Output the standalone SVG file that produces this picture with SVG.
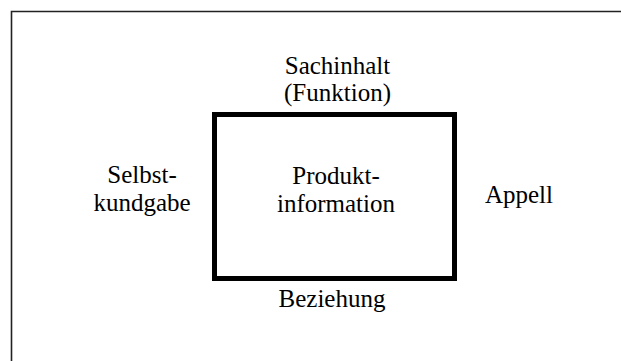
<svg xmlns="http://www.w3.org/2000/svg" width="621" height="361" viewBox="0 0 621 361">
<style>
text{font-size:25px;fill:#000;text-anchor:middle}
.frame{fill:none;stroke:#222;stroke-width:1.6}
.box{fill:none;stroke:#000;stroke-width:5}
</style>
<rect width="621" height="361" fill="#fff"/>
<path class="frame" d="M11.5,361 V11.5 H621"/>
<g font-family="'Liberation Serif', 'Times New Roman', serif">
<g id="produktinformation">
<rect class="box" x="214.5" y="114.5" width="240" height="164"/>
<text x="336" y="184">Produkt-</text>
<text x="336" y="211.5">information</text>
</g>
<g id="sachinhalt">
<text x="337.5" y="74">Sachinhalt</text>
<text x="337.5" y="101">(Funktion)</text>
</g>
<g id="selbstkundgabe">
<text x="142" y="183">Selbst-</text>
<text x="142" y="211">kundgabe</text>
</g>
<g id="appell">
<text x="519" y="203">Appell</text>
</g>
<g id="beziehung">
<text x="332" y="306.5">Beziehung</text>
</g>
</g>
<g id="connectors"></g>
</svg>
